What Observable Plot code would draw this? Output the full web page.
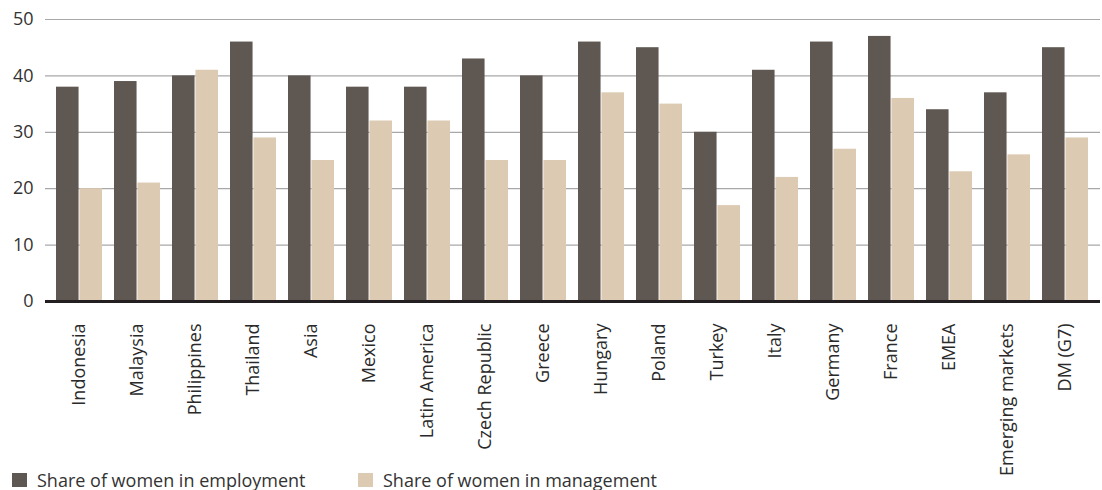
<!DOCTYPE html>
<html>
<head>
<meta charset="utf-8">
<script src="https://cdn.jsdelivr.net/npm/d3@7"></script>
<script src="https://cdn.jsdelivr.net/npm/@observablehq/plot@0.6"></script>
<style>
  html, body { margin: 0; padding: 0; background: #fff; }
  body { width: 1102px; height: 490px; overflow: hidden; position: relative; font-family: "Open Sans", sans-serif; }
  #chart svg { display: block; }
  #legend { position: absolute; left: 0; top: 469px; width: 700px; height: 22px; font-size: 18px; color: #333; }
  .item { position: absolute; top: 0; display: flex; align-items: center; line-height: 22px; }
  .sw { width: 15px; height: 14px; margin-right: 10px; }
</style>
</head>
<body>
<div id="chart"></div>
<div id="legend"></div>
<script>
const countries = ["Indonesia", "Malaysia", "Philippines", "Thailand", "Asia", "Mexico", "Latin America", "Czech Republic", "Greece", "Hungary", "Poland", "Turkey", "Italy", "Germany", "France", "EMEA", "Emerging markets", "DM (G7)"];
const employment = [38, 39, 40, 46, 40, 38, 38, 43, 40, 46, 45, 30, 41, 46, 47, 34, 37, 45];
const management = [20, 21, 41, 29, 25, 32, 32, 25, 25, 37, 35, 17, 22, 27, 36, 23, 26, 29];
const seriesNames = ["Share of women in employment", "Share of women in management"];
const seriesColors = ["#5f5751", "#dccab2"];
const yTicks = [0, 10, 20, 30, 40, 50];

const data = countries.map((c, i) => ({country: c, emp: employment[i], mgmt: management[i]}));

const W = 1102, H = 490, mL = 45, mR = 2;
const pInner = 0.2, pOuter = 0.1;
const step = (W - mL - mR) / (countries.length - pInner + 2 * pOuter);
const half = step * (1 - pInner) / 2;

const chart = Plot.plot({
  width: W,
  height: H,
  marginLeft: mL,
  marginRight: mR,
  marginTop: 19,
  marginBottom: H - 301,
  style: {fontFamily: "'Open Sans', sans-serif", fontSize: "18px", color: "#333", background: "#fff"},
  x: {domain: countries, paddingInner: pInner, paddingOuter: pOuter, label: null},
  y: {domain: [0, 50], axis: null},
  marks: [
    Plot.ruleY(yTicks.filter(d => d > 0), {stroke: "#a8a8a8", strokeWidth: 1.2}),
    Plot.axisY(yTicks, {anchor: "left", tickSize: 0, tickPadding: 12, fontSize: 18, fill: "#333", label: null}),
    Plot.barY(data, {x: "country", y: "emp", fill: seriesColors[0], insetRight: half}),
    Plot.barY(data, {x: "country", y: "mgmt", fill: seriesColors[1], insetLeft: half}),
    Plot.axisX({anchor: "bottom", tickRotate: -90, tickSize: 0, tickPadding: 22, fontSize: 18, fill: "#2a2a2a", label: null}),
    Plot.ruleY([0], {stroke: "#231f20", strokeWidth: 3})
  ]
});
document.getElementById("chart").appendChild(chart);

const legend = document.getElementById("legend");
const lx = [12, 358];
seriesNames.forEach((s, i) => {
  const it = document.createElement("div");
  it.className = "item";
  it.style.left = lx[i] + "px";
  const sw = document.createElement("div");
  sw.className = "sw";
  sw.style.background = seriesColors[i];
  const t = document.createElement("span");
  t.textContent = s;
  it.appendChild(sw);
  it.appendChild(t);
  legend.appendChild(it);
});
</script>
</body>
</html>
